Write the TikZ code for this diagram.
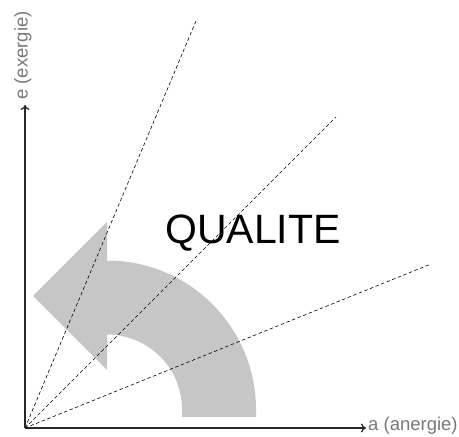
\documentclass[tikz,border=0pt]{standalone}
\usepackage{fontspec}
\setmainfont{Liberation Sans}
\usetikzlibrary{arrows.meta}
\definecolor{axisgray}{RGB}{40,40,40}
\definecolor{labelgray}{RGB}{120,120,120}
\definecolor{arrowgray}{RGB}{198,198,198}
\tikzset{
    % Axis with open arrow tip
    axisline/.style={
        draw=axisgray, line width=1.3pt,
        -{To[length=5pt,width=9pt,line width=1.3pt]}
    },
    % Axis label (grey, sans)
    axislabel/.style={
        text=labelgray, font=\fontsize{18.5}{22}\selectfont, inner sep=2pt
    },
    % Dashed rays from the origin
    rayline/.style={
        draw=black, line width=0.6pt, dash pattern=on 3.5pt off 2.5pt
    },
    % Big curved arrow
    bigarrow/.style={fill=arrowgray, draw=none},
    % Title text
    titletext/.style={font=\fontsize{41}{46}\selectfont, inner sep=0pt},
}
\begin{document}
\begin{tikzpicture}[x=1pt,y=1pt]
      \useasboundingbox (0,0) rectangle (459,437);
      \coordinate (O) at (25,9);
      \coordinate (aend) at (366,9);
      \coordinate (eend) at (25,332);
      \coordinate (r1) at (196,416);
      \coordinate (r2) at (336,320);
      \coordinate (r3) at (431,173);
      % curved arrow
      \fill[bigarrow] (256,20) -- (256,27.5)
          arc[start angle=0,end angle=90,radius=149pt] -- (107,215)
          -- (33,141) -- (107,67) -- (107,102.5)
          arc[start angle=90,end angle=0,radius=75pt] -- (182,20) -- cycle;
      % rays
      \foreach \r in {r1,r2,r3}
        \draw[rayline] (O) -- (\r);
      % axes
      \draw[axisline] (O) -- (aend);
      \draw[axisline] (O) -- (eend);
      \node[axislabel,anchor=mid west] (alabel) at (aend) {a (anergie)};
      \node[axislabel,anchor=mid west,rotate=90,xshift=3pt] (elabel) at (eend) {e (exergie)};
      \node[titletext,anchor=base] (title) at (253,193) {QUALITE};
    \end{tikzpicture}
\end{document}
